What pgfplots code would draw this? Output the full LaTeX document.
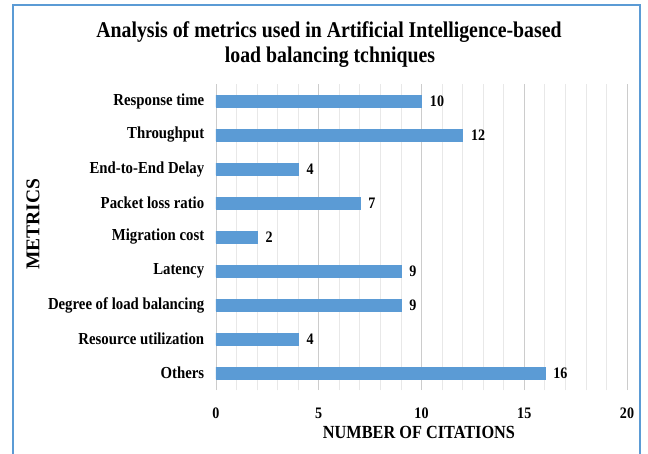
\documentclass[border=0pt]{standalone}
\usepackage{pgfplots}
\pgfplotsset{compat=1.18}
\usepackage{fontspec}
\setmainfont{Liberation Serif}[FakeStretch=0.88]
\newfontfamily\plainserif{Liberation Serif}
\definecolor{barblue}{HTML}{5B9BD5}
\definecolor{frameblue}{HTML}{5B9BD5}
\begin{document}
\begin{tikzpicture}[x=1pt,y=1pt]
\useasboundingbox (0,0) rectangle (648,453);
\begin{scope}
\clip (0,0) rectangle (648,453);
\fill[white] (0,0) rectangle (648,453);
\draw[color=frameblue, line width=1.6pt] (13,-20) rectangle (640,448);
\end{scope}
\node[anchor=base, font=\bfseries\fontsize{22.5}{22.5}\selectfont] at (329,415) {Analysis of metrics used in Artificial Intelligence-based};
\node[anchor=base, font=\bfseries\fontsize{22.5}{22.5}\selectfont] at (330,390) {load balancing tchniques};
\node[font=\plainserif\bfseries\fontsize{19.5}{19.5}\selectfont, rotate=90] at (33,229) {METRICS};
\node[anchor=base, font=\bfseries\fontsize{18.5}{18.5}\selectfont] at (419,15) {NUMBER OF CITATIONS};
\begin{axis}[
  at={(216pt,63pt)}, anchor=south west,
  width=411pt, height=306pt, scale only axis,
  xbar, bar width=12pt,
  xmin=0, xmax=20, ymin=-0.5, ymax=8.5,
  ytick={0,...,8},
  yticklabels={Others,Resource utilization,Degree of load balancing,Latency,Migration cost,Packet loss ratio,End-to-End Delay,Throughput,Response time},
  xtick={0,5,10,15,20},
  minor x tick num=4,
  xmajorgrids, xminorgrids,
  major grid style={draw=gray!40, line width=0.8pt},
  minor grid style={draw=gray!18, line width=0.8pt},
  axis line style={draw=none},
  major tick style={draw=none}, minor tick style={draw=none},
  /pgf/number format/assume math mode=true,
  xticklabel style={font=\bfseries\fontsize{16}{16}\selectfont, anchor=base, yshift=-28pt},
  yticklabel style={font=\bfseries\fontsize{16.8}{16.8}\selectfont, xshift=-4pt},
  nodes near coords,
  every node near coord/.append style={font=\bfseries\fontsize{16}{16}\selectfont, xshift=5pt, black},
]
\addplot[fill=barblue, draw=barblue, line width=0.3pt] coordinates {
(16,0) (4,1) (9,2) (9,3) (2,4) (7,5) (4,6) (12,7) (10,8)
};
\end{axis}
\end{tikzpicture}
\end{document}
